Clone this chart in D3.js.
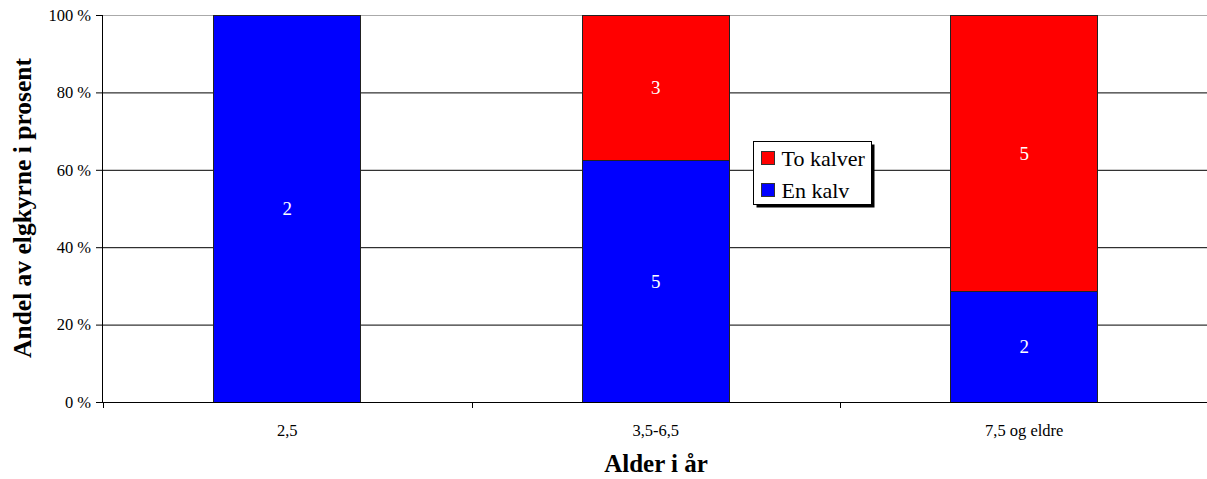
<!DOCTYPE html>
<html><head><meta charset="utf-8">
<script src="https://cdn.jsdelivr.net/npm/d3@7"></script>
<style>body{margin:0;background:#fff;} svg{display:block;} svg text{font-family:"Liberation Serif","Times New Roman",Times,serif;}</style>
</head><body>
<svg id="c" width="1207" height="479"></svg>
<script>
const categories = ["2,5", "3,5-6,5", "7,5 og eldre"];
const enKalv = [2, 5, 2];
const toKalver = [0, 3, 5];
const seriesNames = ["En kalv", "To kalver"];
const seriesColors = ["#0000ff", "#ff0000"];
const yTicks = [0, 20, 40, 60, 80, 100];

const FF = "Liberation Serif, Times New Roman, serif";
const svg = d3.select("#c");
const m = {left: 103, right: 1208.5, top: 15, bottom: 402};
const x = d3.scaleBand().domain(categories).range([m.left, m.right]).padding(0);
const y = d3.scaleLinear().domain([0, 100]).range([m.bottom, m.top]);
const barW = x.bandwidth() * 0.4;

// gridlines
svg.append("g").selectAll("line").data(yTicks.filter(d => d > 0)).join("line")
  .attr("x1", m.left).attr("x2", 1207).attr("y1", d => y(d) + 0.5).attr("y2", d => y(d) + 0.5)
  .attr("stroke", d => d === 100 ? "#aaa" : "#000").attr("stroke-width", 1);

// stacked data
const rows = categories.map((c, i) => ({cat: c, en: enKalv[i], to: toKalver[i]}));
const stack = d3.stack().keys(["en", "to"]).value((d, k) => {
  const t = d.en + d.to; return d[k] / t * 100;
});
const stacked = stack(rows);
const counts = [enKalv, toKalver];

stacked.forEach((s, si) => {
  const g = svg.append("g");
  g.selectAll("rect").data(s.filter(d => d[1] - d[0] > 0)).join("rect")
    .attr("x", d => Math.floor(x(d.data.cat) + (x.bandwidth() - barW) / 2) + 0.5)
    .attr("width", Math.round(barW))
    .attr("y", d => Math.round(y(d[1])) + 0.5)
    .attr("height", d => Math.round(y(d[0])) - Math.round(y(d[1])))
    .attr("fill", seriesColors[si])
    .attr("stroke", "#222").attr("stroke-width", 1);
  g.selectAll("text").data(s.map((d, i) => ({d, n: counts[si][i]})).filter(o => o.n > 0)).join("text")
    .attr("x", o => x(o.d.data.cat) + x.bandwidth() / 2)
    .attr("y", o => (y(o.d[0]) + y(o.d[1])) / 2)
    .attr("dy", "0.35em")
    .attr("text-anchor", "middle")
    .attr("font-family", FF)
    .attr("fill", "#fff").attr("font-size", 19)
    .text(o => o.n);
});

// y axis
const yAxis = d3.axisLeft(y).tickValues(yTicks).tickSize(7).tickFormat(d => d + " %");
const ya = svg.append("g").attr("transform", `translate(${m.left},0)`).call(yAxis)
  .attr("font-family", FF);
ya.select(".domain").attr("stroke", "#000").attr("d", `M-0.5,${m.bottom}V${m.top}`);
ya.selectAll(".tick line").attr("stroke", "#000");
ya.selectAll(".tick text").attr("font-family", FF).attr("font-size", 16.5).attr("fill", "#000").attr("x", -12);

// x axis
const xAxis = d3.axisBottom(x).tickSize(0).tickPadding(22);
const xa = svg.append("g").attr("transform", `translate(0,${m.bottom})`).call(xAxis)
  .attr("font-family", FF);
xa.select(".domain").remove();
svg.append("line").attr("x1", m.left - 7).attr("x2", 1207).attr("y1", m.bottom + 0.5).attr("y2", m.bottom + 0.5).attr("stroke", "#000");
xa.selectAll(".tick text").attr("font-family", FF).attr("font-size", 16.5).attr("fill", "#000");
// category separator ticks
const sep = categories.map(c => x(c)).concat([x(categories[categories.length-1]) + x.bandwidth()]);
svg.append("g").selectAll("line").data(sep.filter(v => v < 1207)).join("line")
  .attr("x1", d => Math.round(d) + 0.5).attr("x2", d => Math.round(d) + 0.5)
  .attr("y1", m.bottom).attr("y2", m.bottom + 6).attr("stroke", "#000");

// axis titles
svg.append("text").attr("x", 656).attr("y", 472).attr("text-anchor", "middle")
  .attr("font-family", FF).attr("font-weight", "bold").attr("font-size", 25).text("Alder i år");
svg.append("text").attr("transform", "translate(22,208) rotate(-90)").attr("text-anchor", "middle")
  .attr("font-family", FF).attr("dy", "0.35em").attr("font-weight", "bold").attr("font-size", 25.5).text("Andel av elgkyrne i prosent");

// legend
const lg = svg.append("g").attr("transform", "translate(753.5,141.5)");
lg.append("rect").attr("x", 3).attr("y", 3).attr("width", 118).attr("height", 63).attr("fill", "#000");
lg.append("rect").attr("width", 118).attr("height", 63).attr("fill", "#fff").attr("stroke", "#000");
const legendItems = [1, 0];
legendItems.forEach((si, i) => {
  lg.append("rect").attr("x", 8).attr("y", 10 + i * 32).attr("width", 13).attr("height", 13)
    .attr("fill", seriesColors[si]).attr("stroke", "#333");
  lg.append("text").attr("x", 28).attr("y", 24.5 + i * 32)
    .attr("font-family", FF).attr("font-size", 22).text(seriesNames[si]);
});
</script>
</body></html>
